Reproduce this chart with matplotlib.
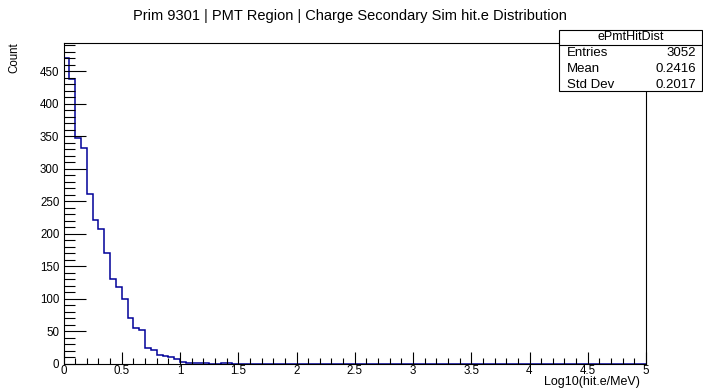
import numpy as np
import matplotlib
matplotlib.use("Agg")
import matplotlib.pyplot as plt
from matplotlib.ticker import MultipleLocator

plt.rcParams["font.family"] = ["Liberation Sans", "DejaVu Sans"]

# histogram of log10(hit energy), 100 bins over [0, 5]
bin_edges = np.linspace(0.0, 5.0, 101)
bin_counts = [470, 438, 347, 332, 261, 222, 207, 170, 131, 118,
              100, 70, 56, 52, 25, 21, 14, 12, 10, 8,
              3, 2, 2, 2, 1, 0, 0, 1, 1]
bin_counts = bin_counts + [0] * (100 - len(bin_counts))

hist_name = "ePmtHitDist"
stat_names = ["Entries", "Mean", "Std Dev"]
stat_values = ["3052", "0.2416", "0.2017"]

title = "Prim 9301 | PMT Region | Charge Secondary Sim hit.e Distribution"
xlabel = "Log10(hit.e/MeV)"
ylabel = "Count"

W, H = 703, 389
fig = plt.figure(figsize=(W / 100, H / 100), dpi=100)
ax = fig.add_axes([63.5 / W, 1 - 364 / H, (646 - 63.5) / W, (364 - 43) / H])

ax.stairs(bin_counts, bin_edges, color="#000099", linewidth=1.1)
ax.set_xlim(0, 5)
ax.set_ylim(0, 1.05 * max(bin_counts))

ax.xaxis.set_minor_locator(MultipleLocator(0.1))
ax.yaxis.set_major_locator(MultipleLocator(50))
ax.yaxis.set_minor_locator(MultipleLocator(10))
ax.set_xticks(np.arange(0, 5.01, 0.5))
ax.set_xticklabels(["0", "0.5", "1", "1.5", "2", "2.5", "3", "3.5", "4", "4.5", "5"])

ax.tick_params(axis="both", which="both", direction="in", labelsize=8.3,
               width=0.8, color="black")
ax.tick_params(axis="x", which="major", length=8.5, pad=1)
ax.tick_params(axis="x", which="minor", length=4)
ax.tick_params(axis="y", which="major", length=16, pad=3)
ax.tick_params(axis="y", which="minor", length=8)
for s in ax.spines.values():
    s.set_linewidth(0.8)

fig.text(349.5 / W, 1 - 16 / H, title, ha="center", va="center", fontsize=10.55)
fig.text(640 / W, 1 - 385.5 / H, xlabel, ha="right", va="baseline", fontsize=9)
fig.text(8 / W, 1 - 42 / H, ylabel, ha="left", va="top", rotation=90, fontsize=8.3)

# stats box in the upper right corner
bx0, bx1 = 559 / W, 702 / W
by_top, by_sep, by_bot = 1 - 30 / H, 1 - 44.5 / H, 1 - 91 / H
box = plt.Rectangle((bx0, by_bot), bx1 - bx0, by_top - by_bot,
                    transform=fig.transFigure, facecolor="white",
                    edgecolor="black", linewidth=0.8, zorder=5)
fig.add_artist(box)
fig.add_artist(plt.Line2D([bx0, bx1], [by_sep, by_sep], transform=fig.transFigure,
                          color="black", linewidth=0.8, zorder=6))
fig.text((bx0 + bx1) / 2, 1 - 37 / H, hist_name, ha="center",
         va="center", fontsize=9, zorder=7)
for i, (name, val) in enumerate(zip(stat_names, stat_values)):
    yy = 1 - (53.5 + 16 * i) / H
    fig.text(bx0 + 8 / W, yy, name, ha="left", va="center", fontsize=9.5, zorder=7)
    fig.text(bx1 - 6 / W, yy, val, ha="right", va="center", fontsize=9.5, zorder=7)

fig.savefig("out.png", dpi=100)
